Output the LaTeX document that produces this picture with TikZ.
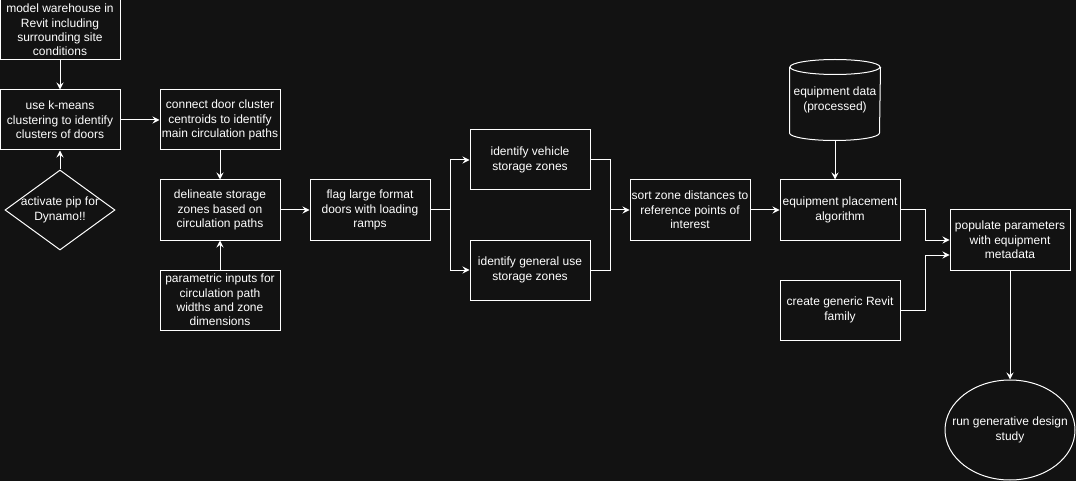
\documentclass[tikz,border=0pt]{standalone}
\usepackage{fontspec}
\setmainfont{Liberation Sans}
\usepackage{xcolor}
\usetikzlibrary{shapes.geometric,arrows.meta,calc}
\definecolor{bg}{HTML}{121212}

\begin{document}
\begin{tikzpicture}[x=1pt, y=-1pt,
        box/.style={draw=white, line width=1pt, text=white, align=center, inner sep=0pt,
            minimum width=120pt, minimum height=60pt, font=\fontsize{12}{14.4}\selectfont},
        wire/.style={draw=white, line width=1pt},
        arr/.style={wire, -{Stealth[length=7pt, width=7pt, inset=2.5pt]}}]
    \fill[bg] (0,0) rectangle (1076,481);
    \useasboundingbox (0,0) rectangle (1076,481);

    \node[box] (model) at (60,30) {model warehouse in\\Revit including\\surrounding site\\conditions};
    \node[box] (kmeans) at (60,120) {use k-means\\clustering to identify\\clusters of doors};
    \node[box, diamond, aspect=1.375, inner sep=-6pt, minimum width=110pt, minimum height=80pt]
        (pip) at (60,210) {activate pip for\\Dynamo!!};
    \node[box] (connect) at (220,120) {connect door cluster\\centroids to identify\\main circulation paths};
    \node[box] (delineate) at (220,210) {delineate storage\\zones based on\\circulation paths};
    \node[box] (param) at (220,300) {parametric inputs for\\circulation path\\widths and zone\\dimensions};
    \node[box] (flag) at (370,210) {flag large format\\doors with loading\\ramps};
    \node[box] (vehicle) at (530,160) {identify vehicle\\storage zones};
    \node[box] (general) at (530,270) {identify general use\\storage zones};
    \node[box] (sort) at (690,210) {sort zone distances to\\reference points of\\interest};
    \node[box] (place) at (840,210) {equipment placement\\algorithm};
    \node[box, draw=none, minimum width=90pt, minimum height=80pt] (data) at (835,100) {equipment data\\(processed)};
    \node[box] (revit) at (840,310) {create generic Revit\\family};
    \node[box] (populate) at (1010,240) {populate parameters\\with equipment\\metadata};
    \node[box, ellipse, inner xsep=-20pt, inner ysep=-10pt, minimum width=130pt, minimum height=100pt]
        (study) at (1010,430) {run generative design\\study};

    \coordinate (split) at (450,210);
    \coordinate (merge) at (610,210);

    \draw[wire] ($(data.north)+(0,7.5)$) ellipse[x radius=45pt, y radius=7.5pt];
    \draw[wire] ($(data.north west)+(0,7.5)$) -- ($(data.south west)+(0,-7.5)$)
        arc[start angle=180, end angle=360, x radius=45pt, y radius=7.5pt]
        -- ($(data.north east)+(0,7.5)$);

    \draw[arr] (model) -- (kmeans);
    \draw[arr] (pip) -- (kmeans);
    \draw[arr] (kmeans) -- (connect);
    \draw[arr] (connect) -- (delineate);
    \draw[arr] (param) -- (delineate);
    \draw[arr] (delineate) -- (flag);
    \draw[wire] (flag) -- (split);
    \draw[arr] (split) |- (vehicle);
    \draw[arr] (split) |- (general);
    \draw[wire] (vehicle) -| (merge);
    \draw[wire] (general) -| (merge);
    \draw[arr] (merge) -- (sort);
    \draw[arr] (sort) -- (place);
    \draw[arr] (data.south) -- (data.south |- place.north);
    \draw[arr] (place.east) -- ++(25,0) |- (populate.west);
    \draw[arr] (revit.east) -- ++(25,0) |- ($(populate.west)+(0,15)$);
    \draw[arr] (populate) -- (study);
\end{tikzpicture}
\end{document}
